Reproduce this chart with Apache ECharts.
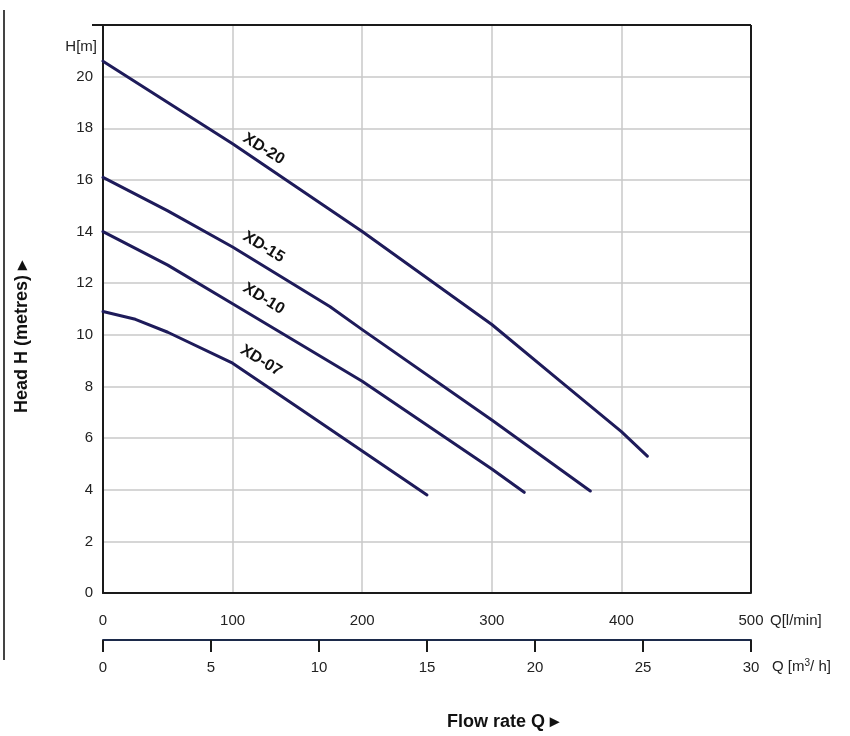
<!DOCTYPE html>
<html>
<head>
<meta charset="utf-8">
<script src="https://cdn.jsdelivr.net/npm/echarts@6/dist/echarts.min.js"></script>
<style>html,body{margin:0;padding:0;background:#fff;}#c{width:850px;height:736px;}</style>
</head>
<body>
<div id="c"></div>
<script>
// Flow (l/min) and head (m) points
const xd20Q = [0, 100, 200, 300, 353, 400, 420];
const xd20H = [20.6, 17.4, 14.0, 10.4, 8.2, 6.25, 5.3];
const xd15Q = [0, 50, 100, 175, 200, 300, 376];
const xd15H = [16.1, 14.8, 13.4, 11.1, 10.2, 6.7, 3.95];
const xd10Q = [0, 50, 100, 200, 300, 325];
const xd10H = [14.0, 12.7, 11.2, 8.2, 4.8, 3.9];
const xd07Q = [0, 25, 50, 100, 150, 200, 250];
const xd07H = [10.9, 10.6, 10.1, 8.9, 7.2, 5.5, 3.8];
const seriesNames = ['XD-20', 'XD-15', 'XD-10', 'XD-07'];
// label anchor points (l/min, m)
const labelQ = [124, 124, 124, 122];
const labelH = [17.2, 13.4, 11.4, 9.0];

const yTicks = [0, 2, 4, 6, 8, 10, 12, 14, 16, 18, 20];
const qLminMax = 500, qM3hMax = 30, hMax = 22;

function pairs(q, h) { return q.map((v, i) => [v, h[i]]); }

const chart = echarts.init(document.getElementById('c'));
const lineColor = '#1e1b5a';
const font = 'Liberation Sans, Arial, sans-serif';
const mk = (name, q, h) => ({
  name, type: 'line', xAxisIndex: 0, yAxisIndex: 0, data: pairs(q, h),
  smooth: false, showSymbol: false, symbol: 'none',
  lineStyle: { color: lineColor, width: 3, cap: 'round', join: 'round' }
});

chart.setOption({
  animation: false,
  backgroundColor: '#fff',
  grid: { left: 103, right: 99, top: 25, bottom: 143 },
  xAxis: [
    {
      type: 'value', min: 0, max: qLminMax, interval: 100, position: 'bottom',
      axisLine: { show: true, lineStyle: { color: '#1a1a1a', width: 2 } },
      axisTick: { show: false },
      axisLabel: { color: '#222', fontSize: 15, fontFamily: font, margin: 20 },
      splitLine: { show: true, lineStyle: { color: '#c8c8c8', width: 1.5 } }
    },
    {
      type: 'value', min: 0, max: qM3hMax, interval: 5, position: 'bottom', offset: 47,
      axisLine: { show: true, onZero: false, lineStyle: { color: '#1c2a4a', width: 2 } },
      axisTick: { show: true, length: 12, lineStyle: { color: '#1a1a1a', width: 2 } },
      axisLabel: { color: '#222', fontSize: 15, fontFamily: font, margin: 20 },
      splitLine: { show: false }
    }
  ],
  yAxis: {
    type: 'value', min: 0, max: hMax, interval: 2,
    axisLine: { show: true, lineStyle: { color: '#1a1a1a', width: 2 } },
    axisTick: { show: false },
    axisLabel: {
      color: '#222', fontSize: 15, fontFamily: font, margin: 10,
      formatter: v => (yTicks.indexOf(v) >= 0 ? String(v) : '')
    },
    splitLine: { show: true, lineStyle: { color: '#c8c8c8', width: 1.5 } }
  },
  series: [
    mk(seriesNames[0], xd20Q, xd20H),
    mk(seriesNames[1], xd15Q, xd15H),
    mk(seriesNames[2], xd10Q, xd10H),
    mk(seriesNames[3], xd07Q, xd07H),
    { type: 'line', xAxisIndex: 1, data: [], silent: true }
  ]
});

const g = [];
seriesNames.forEach((n, i) => {
  const p = chart.convertToPixel({ xAxisIndex: 0, yAxisIndex: 0 }, [labelQ[i], labelH[i]]);
  g.push({
    type: 'text', x: p[0], y: p[1], rotation: -0.55, z: 10,
    style: { text: n, fill: '#111', font: 'bold 16px ' + font, align: 'center', verticalAlign: 'middle' }
  });
});
const tl = chart.convertToPixel({ xAxisIndex: 0, yAxisIndex: 0 }, [0, hMax]);
const br = chart.convertToPixel({ xAxisIndex: 0, yAxisIndex: 0 }, [qLminMax, 0]);
g.push({ type: 'line', z: 5, shape: { x1: tl[0] - 11, y1: tl[1], x2: br[0], y2: tl[1] }, style: { stroke: '#1a1a1a', lineWidth: 2 } });
g.push({ type: 'line', z: 5, shape: { x1: br[0], y1: tl[1], x2: br[0], y2: br[1] }, style: { stroke: '#1a1a1a', lineWidth: 2 } });
g.push({ type: 'text', x: 97, y: 47, style: { text: 'H[m]', fill: '#222', font: '15px ' + font, align: 'right', verticalAlign: 'middle' } });
g.push({ type: 'text', x: 770, y: 621, style: { text: 'Q[l/min]', fill: '#222', font: '15px ' + font, align: 'left', verticalAlign: 'middle' } });
g.push({ type: 'text', x: 772, y: 667, style: { rich: { a: { fontSize: 15, fontFamily: font, fill: '#222' }, s: { fontSize: 10, fontFamily: font, fill: '#222', verticalAlign: 'top', padding: [0, 0, 8, 0] } }, text: '{a|Q [m}{s|3}{a|/ h]}', fill: '#222', align: 'left', verticalAlign: 'middle' } });
g.push({ type: 'text', x: 22, y: 337, rotation: Math.PI / 2, style: { text: 'Head H (metres) \u25B8', fill: '#111', font: 'bold 18px ' + font, align: 'center', verticalAlign: 'middle' } });
g.push({ type: 'text', x: 503, y: 722, style: { text: 'Flow rate Q \u25B8', fill: '#111', font: 'bold 18px ' + font, align: 'center', verticalAlign: 'middle' } });
g.push({ type: 'line', shape: { x1: 4, y1: 10, x2: 4, y2: 660 }, style: { stroke: '#444', lineWidth: 2 } });
chart.setOption({ graphic: g });
</script>
</body>
</html>
